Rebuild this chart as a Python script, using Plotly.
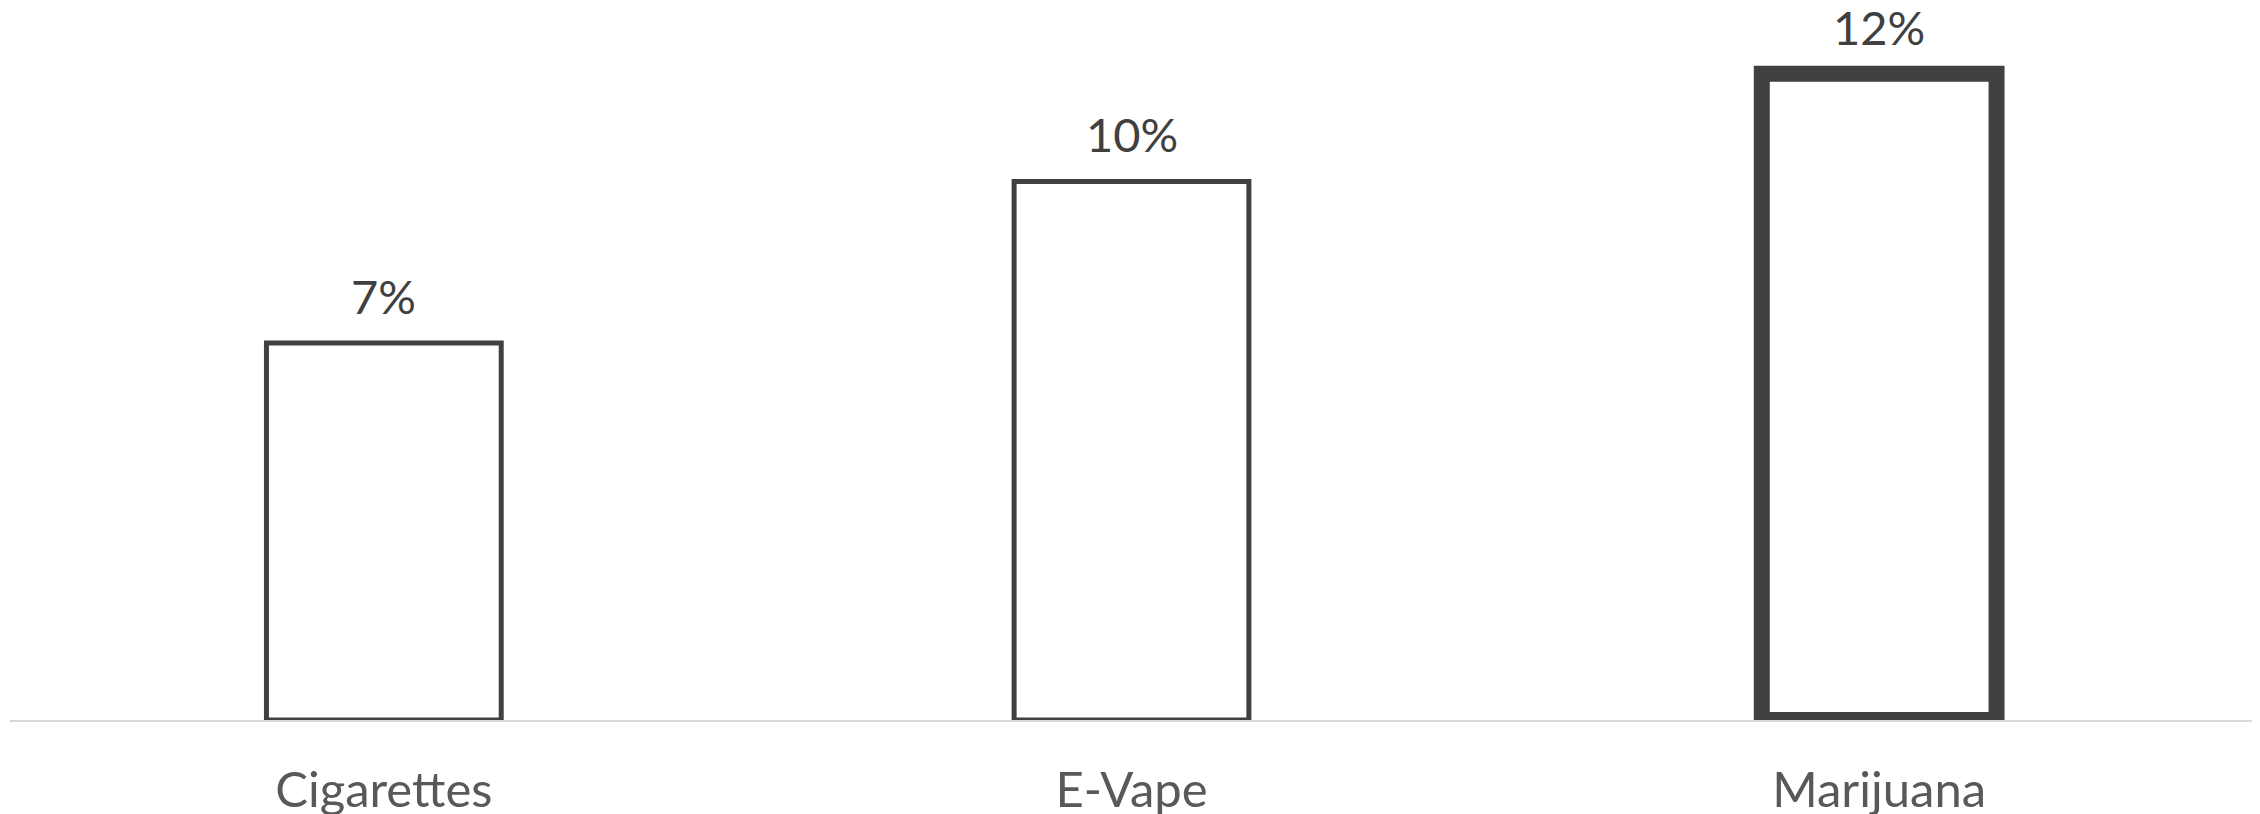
import plotly.graph_objects as go

# data
categories = ["Cigarettes", "E-Vape", "Marijuana"]
shares = [7, 10, 12]
share_labels = ["7%", "10%", "12%"]

# styling: the last bar gets a heavy outline
outline_widths = [5, 5, 16]

fig = go.Figure(go.Bar(
    x=categories,
    y=shares,
    width=0.314,
    marker=dict(color="white", line=dict(color="#404040", width=outline_widths)),
    hoverinfo="skip",
))

# value labels above each bar
for cat, val, lab in zip(categories, shares, share_labels):
    fig.add_annotation(x=cat, y=val, text=lab, showarrow=False,
                       yanchor="bottom", yshift=17,
                       font=dict(family="Lato", size=47, color="#404040"))

# the page body has an 8px margin, so the figure is sized to fit inside it
fig.update_layout(
    width=2252, height=806,
    margin=dict(l=2, r=7, t=0, b=94),
    paper_bgcolor="white", plot_bgcolor="white",
    showlegend=False,
)
fig.update_xaxes(showline=True, linecolor="#d9d9d9", linewidth=2,
                 ticks="", ticklabelstandoff=26, automargin=False,
                 tickfont=dict(family="Lato", size=49, color="#595959"))
fig.update_yaxes(range=[0, 13.22], visible=False, showgrid=False, automargin=False)

fig.write_html("out.html")
